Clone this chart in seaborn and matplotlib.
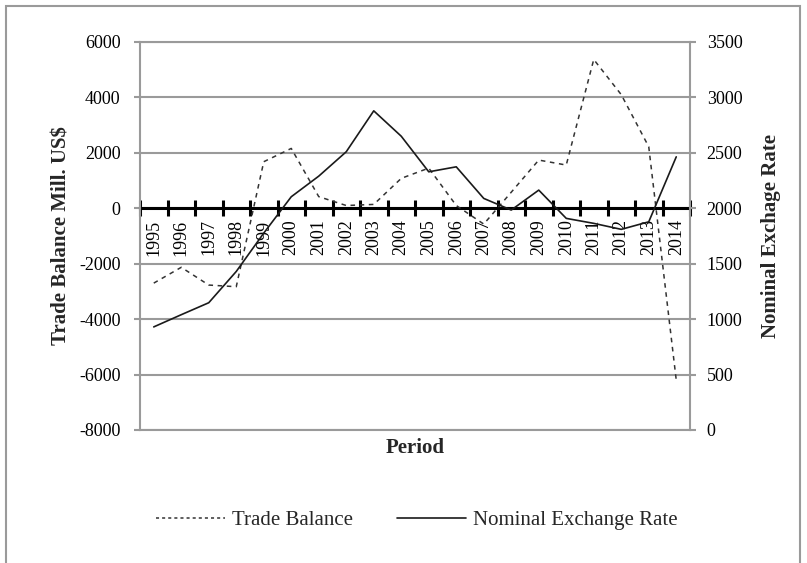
"""Trade balance vs nominal exchange rate, 1995-2014 (twin-axis line chart)."""

import matplotlib

matplotlib.use("Agg")
import matplotlib.pyplot as plt
import numpy as np
import pandas as pd
import seaborn as sns
from matplotlib.lines import Line2D
from matplotlib.patches import Rectangle

years = [str(y) for y in range(1995, 2015)]
trade_balance = [-2700, -2130, -2770, -2830, 1680, 2160, 420, 100, 140, 1080,
                 1450, 100, -570, 580, 1740, 1560, 5370, 4100, 2220, -6200]
exchange_rate = [930, 1040, 1148, 1430, 1776, 2104, 2290, 2510, 2879, 2650,
                 2329, 2374, 2089, 1984, 2164, 1909, 1864, 1810, 1878, 2464]

left_ticks = list(range(-8000, 6001, 2000))
right_ticks = list(range(0, 3501, 500))

GRID = "#9a9a9a"
INK = "#1a1a1a"
DASH = (0, (3, 3))

sns.set_theme(style="white")
plt.rcParams["font.family"] = ["Liberation Serif", "DejaVu Serif"]
plt.rcParams["axes.unicode_minus"] = False

df = pd.DataFrame({"year": years, "trade": trade_balance, "rate": exchange_rate})

fig = plt.figure(figsize=(8.07, 5.63), dpi=100)
ax = fig.add_axes([140 / 807, 1 - 430 / 563, 550 / 807, 388 / 563])
ax2 = ax.twinx()

sns.lineplot(data=df, x="year", y="trade", ax=ax, sort=False, color="#333333",
             lw=1.1, linestyle=DASH)
sns.lineplot(data=df, x="year", y="rate", ax=ax2, sort=False, color=INK, lw=1.2)

ax.set_xlim(-0.5, len(years) - 0.5)
ax.set_ylim(left_ticks[0], left_ticks[-1])
ax2.set_ylim(right_ticks[0], right_ticks[-1])
ax.set_yticks(left_ticks)
ax2.set_yticks(right_ticks)

# horizontal grid, gray frame
ax.grid(axis="y", color=GRID, lw=1.5)
ax.grid(axis="x", visible=False)
ax.set_axisbelow(True)
for s in ("top", "right"):
    ax.spines[s].set_visible(False)
ax.spines["left"].set_color(GRID)
ax.spines["left"].set_linewidth(1.5)
ax2.spines["left"].set_visible(False)
for s in ("top", "bottom", "right"):
    ax2.spines[s].set_color(GRID)
    ax2.spines[s].set_linewidth(1.5)

# category axis sits on the zero line
ax.spines["bottom"].set_position(("data", 0))
ax.spines["bottom"].set_color("black")
ax.spines["bottom"].set_linewidth(2.2)
ax.spines["bottom"].set_zorder(1.5)
ax.set_xticks(range(len(years)))
ax.set_xticklabels(years, rotation=90, va="top", ha="center")
ax.set_xticks(np.arange(-0.5, len(years), 1), minor=True)
ax.tick_params(axis="x", which="major", bottom=True, length=0, pad=8,
               labelsize=13, colors="black")
ax.tick_params(axis="x", which="minor", bottom=True, direction="inout",
               length=12, width=2.2, color="black")

ax.tick_params(axis="y", left=True, direction="out", length=4, width=1.5,
               color=GRID, pad=10, labelsize=13, labelcolor="black")
ax2.tick_params(axis="y", right=True, direction="out", length=4, width=1.5,
                color=GRID, pad=8, labelsize=13, labelcolor="black")

ax.set_xlabel("")
ax.set_ylabel("Trade Balance Mill. US$", fontsize=15, fontweight="bold")
ax.yaxis.set_label_coords(-0.125, 0.5)
ax2.set_ylabel("Nominal Exchage Rate", fontsize=15, fontweight="bold")
ax2.yaxis.set_label_coords(1.13, 0.5)
fig.text(415 / 807, 1 - 448 / 563, "Period", fontsize=15, fontweight="bold",
         ha="center", va="center")

handles = [
    Line2D([], [], color="#333333", lw=1.1, linestyle=(0, (2, 2))),
    Line2D([], [], color=INK, lw=1.2),
]
fig.legend(handles, ["Trade Balance", "Nominal Exchange Rate"], loc="center",
           bbox_to_anchor=(417 / 807, 1 - 520 / 563), ncol=2, frameon=False,
           fontsize=15, handlelength=3.3, handletextpad=0.35, columnspacing=2.1)

# outer chart-area frame (cut off at the bottom like the source)
fig.patches.append(Rectangle((6 / 807, -0.1), 794 / 807, 1.1 - 6 / 563,
                             transform=fig.transFigure, fill=False,
                             edgecolor=GRID, lw=1.5))

fig.savefig("out.png", dpi=100, facecolor="white")
